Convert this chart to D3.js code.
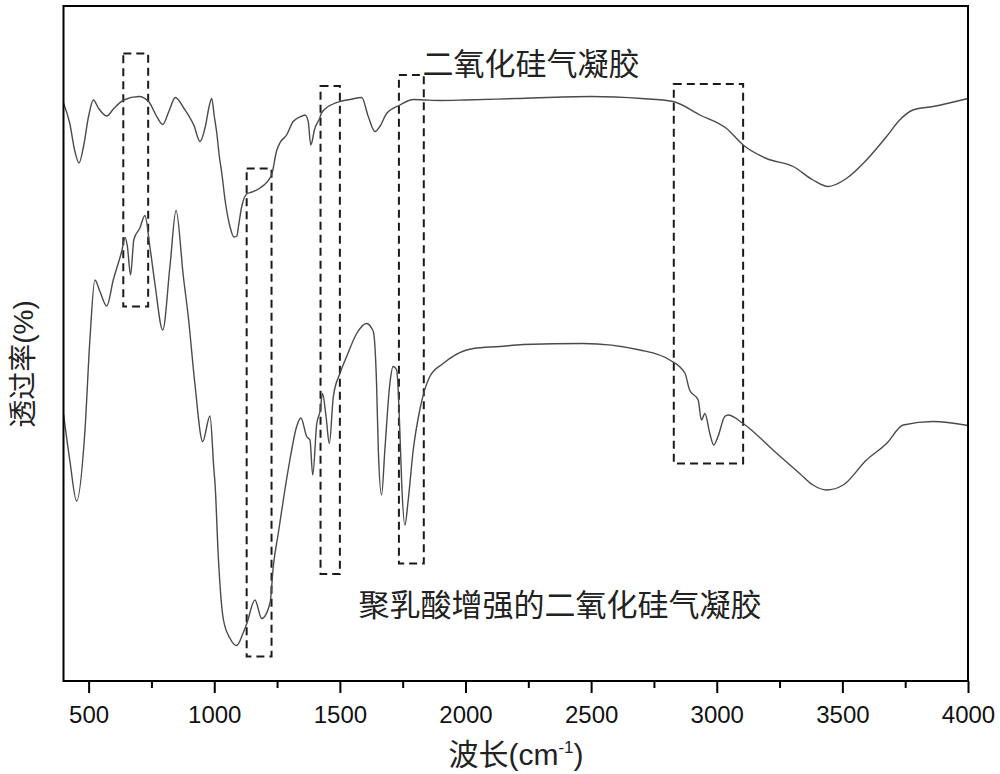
<!DOCTYPE html>
<html><head><meta charset="utf-8">
<script src="https://cdn.jsdelivr.net/npm/d3@7"></script>
<style>
html,body{margin:0;padding:0;background:#fff;}
svg{display:block;}
</style></head>
<body>
<svg id="chart" width="1000" height="774"></svg>
<script>
// ---- data ----
// x: wavenumber (cm-1); y: transmittance (arbitrary, offset curves)
const silicaWN = [400,425,445,462,480,500,519,540,572,600,640,700,740,770,795,820,845,880,920,943,965,980,990,1000,1010,1020,1030,1043,1063,1078,1090,1096,1109,1129,1150,1182,1228,1248,1261,1288,1314,1350,1361,1374,1384,1390,1397,1420,1427,1473,1500,1540,1587,1613,1640,1659,1686,1739,1792,1838,1900,2000,2200,2500,2700,2826,2933,3039,3105,3198,3304,3383,3443,3516,3596,3676,3728,3781,3861,4000];
const silicaT  = [115.6,111.5,106,103.6,107,113,116.2,114.5,113,114.5,116.2,116.9,115.8,113,111.3,114,116.7,114.5,111,107.9,111,115,116.5,113,109.6,105,101.6,96.2,90.8,88.8,89,90.8,94.8,97.4,97.8,98.6,101.2,106,107.6,109.2,111.9,113,113.2,111.9,107.2,108,109.9,112.6,113.6,115.4,115.9,116.3,116.7,112.9,109.9,110.9,113.5,115.2,116.3,116.2,116.1,116.2,116.5,116.9,116.5,115.9,113.2,110.5,107.2,104.5,102.9,100.2,98.9,100.5,104.2,108.9,112.2,114.2,114.9,116.5];

const plaWN = [400,426,452,485,505,525,545,572,598,632,645,654,667,680,704,724,744,764,795,824,848,877,897,923,954,983,999,1003,1016,1036,1063,1089,1115,1129,1162,1189,1222,1235,1255,1281,1301,1328,1345,1368,1381,1392,1408,1421,1431,1445,1458,1474,1500,1527,1567,1606,1633,1646,1653,1666,1679,1699,1712,1726,1739,1746,1759,1772,1792,1818,1858,1911,2004,2031,2137,2230,2468,2694,2813,2873,2892,2926,2939,2953,2972,2988,3005,3032,3045,3105,3224,3330,3383,3437,3503,3596,3676,3742,3861,4000];
const plaT  = [53.4,43.8,36,49.8,68.2,80.2,77.9,75,80.2,86,88.7,87,81.2,88.3,90.6,93.1,86.8,79.4,70.2,83.1,94.1,80.9,72.7,59.4,47.9,53,42,39.6,25,12.4,8.5,7.1,9.6,11.4,16.2,12.5,15.6,22.9,29.6,38.2,44.2,50.9,52.6,48.9,48.2,41.2,51.5,53.9,57.5,52.9,47.5,56.9,61.5,64.9,69.5,71.5,69.9,59.5,46.2,37.2,46.2,59.5,62.9,62.2,49.6,39.6,31.2,36.2,46.2,54.2,60.9,63.5,66.2,66.5,66.9,67.3,67.5,66.2,64.2,61.6,58.2,56.2,52.2,53.5,49.6,47.2,48.9,52.9,53.2,51.5,46.2,41.5,39.2,38.2,39.2,44.2,47.5,51.2,51.9,51.1];

// dashed highlight boxes: wavenumber range and transmittance range
const boxWNlo = [638, 1129, 1423, 1735, 2829];
const boxWNhi = [737, 1228, 1500, 1834, 3105];
const boxTlo  = [74.9, 4.9, 21.4, 23.5, 43.5];
const boxThi  = [125.5, 102.5, 119, 121.2, 119.4];

const xTicks = [500,1000,1500,2000,2500,3000,3500,4000];
const xMinor = [750,1250,1750,2250,2750,3250,3750];

const labelTop = "二氧化硅气凝胶";
const labelBottom = "聚乳酸增强的二氧化硅气凝胶";

// ---- layout ----
const L = 63.5, R = 968, T = 6, B = 681;
const svg = d3.select("#chart");
const x = d3.scaleLinear().domain([400, 4000]).range([L, R]);
const y = d3.scaleLinear().domain([0, 135]).range([B, T]);

const line = d3.line().x(d => x(d[0])).y(d => y(d[1])).curve(d3.curveMonotoneX);

// boxes
const boxes = boxWNlo.map((v, i) => ({x0: v, x1: boxWNhi[i], y0: boxTlo[i], y1: boxThi[i]}));
svg.append("g").selectAll("rect").data(boxes).join("rect")
  .attr("x", d => x(d.x0)).attr("y", d => y(d.y1))
  .attr("width", d => x(d.x1) - x(d.x0)).attr("height", d => y(d.y0) - y(d.y1))
  .attr("fill", "none").attr("stroke", "#1a1a1a").attr("stroke-width", 2)
  .attr("stroke-dasharray", "8,5");

// curves
svg.append("path").datum(silicaWN.map((v, i) => [v, silicaT[i]]))
  .attr("d", line).attr("fill", "none").attr("stroke", "#4a4a4a").attr("stroke-width", 1.4);
svg.append("path").datum(plaWN.map((v, i) => [v, plaT[i]]))
  .attr("d", line).attr("fill", "none").attr("stroke", "#4a4a4a").attr("stroke-width", 1.4);

// frame
svg.append("rect").attr("x", L).attr("y", T).attr("width", R - L).attr("height", B - T)
  .attr("fill", "none").attr("stroke", "#000").attr("stroke-width", 2);

// x axis
const ax = svg.append("g").attr("transform", `translate(0,${B})`)
  .call(d3.axisBottom(x).tickValues(xTicks).tickSize(12).tickPadding(13).tickFormat(d3.format("d")));
ax.select(".domain").remove();
ax.selectAll(".tick line").attr("stroke", "#000").attr("stroke-width", 2);
ax.selectAll("text").attr("font-family", "Liberation Sans, Arial, sans-serif").attr("font-size", 24).attr("fill", "#111");
const axm = svg.append("g").attr("transform", `translate(0,${B})`)
  .call(d3.axisBottom(x).tickValues(xMinor).tickSize(7).tickFormat(""));
axm.select(".domain").remove();
axm.selectAll(".tick line").attr("stroke", "#000").attr("stroke-width", 2);

// labels
const cjk = "'Noto Sans CJK SC', 'Noto Sans', sans-serif";
svg.append("text").attr("x", 531).attr("y", 75).attr("text-anchor", "middle")
  .attr("font-family", cjk).attr("font-size", 31).attr("fill", "#222").text(labelTop);
svg.append("text").attr("x", 560).attr("y", 616).attr("text-anchor", "middle")
  .attr("font-family", cjk).attr("font-size", 31).attr("fill", "#222").text(labelBottom);

const xl = svg.append("text").attr("x", 516).attr("y", 765).attr("text-anchor", "middle")
  .attr("font-family", cjk).attr("font-size", 30).attr("fill", "#222");
xl.append("tspan").text("波长");
xl.append("tspan").attr("font-family", "Liberation Sans, Arial, sans-serif").text("(cm");
xl.append("tspan").attr("font-family", "Liberation Sans, Arial, sans-serif").attr("font-size", 17).attr("dy", -12).text("-1");
xl.append("tspan").attr("font-family", "Liberation Sans, Arial, sans-serif").attr("dy", 12).text(")");

const yl = svg.append("text").attr("transform", "translate(33,364) rotate(-90)").attr("text-anchor", "middle")
  .attr("font-family", cjk).attr("font-size", 28).attr("fill", "#222");
yl.append("tspan").text("透过率");
yl.append("tspan").attr("font-family", "Liberation Sans, Arial, sans-serif").text("(%)");
</script>
</body></html>
